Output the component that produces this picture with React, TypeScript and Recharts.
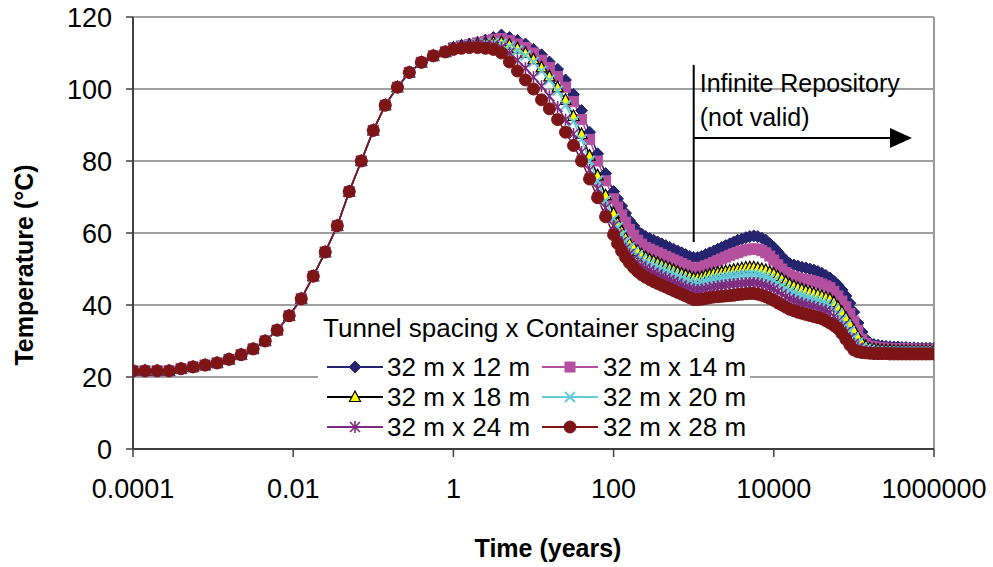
import {
  LineChart,
  Line,
  XAxis,
  YAxis,
  CartesianGrid,
  Legend,
  ReferenceLine,
} from "recharts";

const FONT = "'Liberation Sans', Arial, Helvetica, sans-serif";

// time in years (log spaced; output gets denser after 100 years)
const earlyTimes = [
  0.0001, 0.000141, 0.0002, 0.000282, 0.000398, 0.000562, 0.000794, 0.00112,
  0.00158, 0.00224, 0.00316, 0.00447, 0.00631, 0.00891, 0.0126, 0.0178, 0.0251,
  0.0355, 0.0501, 0.0708, 0.1, 0.141, 0.2, 0.282, 0.398, 0.562, 0.794,
];
const midTimes = [
  1, 1.26, 1.58, 2, 2.51, 3.16, 3.98, 5.01, 6.31, 7.94,
  10, 12.6, 15.8, 20, 25.1, 31.6, 39.8, 50.1, 63.1, 79.4,
];
const lateTimes = [
  100, 112, 126, 141, 158, 178, 200, 224, 251, 282,
  316, 355, 398, 447, 501, 562, 631, 708, 794, 891,
  1000, 1120, 1260, 1410, 1580, 1780, 2000, 2240, 2510, 2820,
  3160, 3550, 3980, 4470, 5010, 5620, 6310, 7080, 7940, 8910,
  10000, 11200, 12600, 14100, 15800, 17800, 20000, 22400, 25100, 28200,
  31600, 35500, 39800, 44700, 50100, 56200, 63100, 70800, 79400, 89100,
  100000, 112000, 126000, 141000, 158000, 178000, 200000, 224000, 251000, 282000,
  316000, 355000, 398000, 447000, 501000, 562000, 631000, 708000, 794000, 891000,
  1000000,
];

// all cases overlap before ~1 year
const earlyTemp = [
  21.7, 21.7, 21.7, 21.7, 22.3, 22.8, 23.3, 23.9, 24.9, 26.2, 27.8, 30, 33, 37,
  41.7, 48, 54.7, 62, 71.5, 80, 88.5, 95.5, 100.5, 104.6, 107.4, 109.2, 110.3,
];

// 1 - 80 years
const mid12 = [111.5, 112, 112.5, 113, 113.6, 114.3, 115, 114.3, 113.5, 112.5, 111, 109.5, 107.5, 105.5, 102.5, 98.5, 94, 88, 82, 76.5];
const mid14 = [111.5, 112, 112.3, 112.8, 113.2, 113.8, 114, 113.5, 112.5, 111.5, 110, 108, 106, 103.5, 100.5, 96.5, 91.5, 86, 80, 74.5];
const mid18 = [111.5, 112, 112.2, 112.5, 112.8, 113, 113, 112.3, 111.3, 110, 108.3, 106, 103.5, 100.5, 97, 92.5, 87.5, 81.5, 76, 70.5];
const mid20 = [111.5, 112, 112.2, 112.4, 112.6, 112.7, 112.6, 111.8, 110.7, 109.3, 107.5, 105, 102.5, 99.5, 95.5, 91, 86, 80, 74.5, 69];
const mid24 = [111.3, 111.8, 112, 112.2, 112.3, 112.2, 111.5, 110, 108, 105.8, 103.3, 100.8, 98, 95, 91.5, 87.5, 82.5, 77.5, 72.3, 67];
const mid28 = [111, 111.3, 111.5, 111.5, 111.3, 111, 110, 107.5, 105, 102.5, 100, 97, 94.5, 91.5, 88, 84.3, 80, 75, 69.8, 64.5];

// 100 years - 1e6 years
const late12 = [
  71.5, 69.5, 67.5, 65.5, 63.5, 62, 60.5, 59.7, 59, 58.5,
  58, 57.5, 57, 56.5, 56, 55.5, 55, 54.5, 54, 53.5,
  53.2, 53.2, 53.5, 54, 54.5, 55, 55.5, 56, 56.5, 57,
  57.5, 58, 58.3, 58.7, 59, 59.2, 59, 58.6, 58, 57,
  56, 54.8, 53.5, 52.3, 51.5, 51.1, 50.8, 50.5, 50.3, 50,
  49.7, 49.3, 48.8, 48.2, 47.5, 46.6, 45.5, 44.2, 42.5, 40.5,
  38, 35, 32.5, 30.5, 29.5, 29, 28.8, 28.6, 28.5, 28.4,
  28.3, 28.3, 28.2, 28.2, 28.1, 28.1, 28, 28, 28, 28,
  28,
];
const late14 = [
  69.5, 67.2, 65, 63, 61, 59.4, 58, 56.9, 56, 55.5,
  55, 54.5, 54, 53.5, 53, 52.5, 52, 51.5, 51, 50.5,
  50.2, 50.2, 50.5, 50.9, 51.3, 51.8, 52.3, 52.8, 53.3, 53.8,
  54.2, 54.6, 55, 55.3, 55.5, 55.6, 55.5, 55.1, 54.5, 53.6,
  52.5, 51.2, 50, 49, 48.3, 47.8, 47.5, 47.2, 47, 46.8,
  46.5, 46.2, 45.8, 45.3, 44.8, 43.8, 42.5, 41.1, 39.5, 37.6,
  35.5, 33, 30.5, 29.3, 28.6, 28.4, 28.2, 28.1, 28, 27.9,
  27.9, 27.8, 27.8, 27.8, 27.8, 27.7, 27.7, 27.7, 27.7, 27.7,
  27.7,
];
const late18 = [
  65.5, 62.8, 60.5, 58.6, 57, 55.9, 55, 54.1, 53.3, 52.7,
  52.2, 51.7, 51.2, 50.7, 50.2, 49.7, 49.2, 48.7, 48.3, 47.9,
  47.5, 47.6, 47.8, 48.2, 48.5, 48.8, 49, 49.2, 49.4, 49.6,
  49.8, 50, 50.2, 50.4, 50.5, 50.5, 50.3, 50, 49.7, 49.2,
  48.7, 48, 47.3, 46.5, 45.8, 45.3, 44.8, 44.4, 44, 43.7,
  43.3, 42.9, 42.5, 42.1, 41.7, 40.8, 39.5, 38.1, 36.5, 34.8,
  33, 31.2, 29.5, 28.6, 28, 27.8, 27.6, 27.5, 27.4, 27.4,
  27.3, 27.3, 27.3, 27.3, 27.2, 27.2, 27.2, 27.2, 27.2, 27.2,
  27.2,
];
const late20 = [
  64, 61.6, 59.5, 57.6, 56, 54.8, 53.8, 52.8, 52, 51.4,
  50.8, 50.3, 49.8, 49.3, 48.8, 48.3, 47.8, 47.3, 46.8, 46.4,
  46, 46, 46.2, 46.5, 46.8, 47.1, 47.3, 47.5, 47.7, 47.9,
  48, 48.2, 48.3, 48.4, 48.5, 48.5, 48.3, 48, 47.7, 47.2,
  46.7, 46, 45.2, 44.5, 43.8, 43.3, 42.8, 42.4, 42, 41.7,
  41.3, 41, 40.6, 40.2, 39.8, 38.8, 37.5, 36, 34.5, 32.8,
  31, 29.5, 28.3, 27.8, 27.5, 27.3, 27.2, 27.1, 27.1, 27,
  27, 27, 27, 27, 27, 27, 27, 27, 27, 27,
  27,
];
const late24 = [
  62, 59.6, 57.5, 55.7, 54.2, 52.9, 51.8, 50.9, 50.2, 49.6,
  49, 48.5, 48, 47.5, 47, 46.5, 46, 45.5, 45, 44.6,
  44.2, 44.2, 44.3, 44.5, 44.8, 45, 45.2, 45.4, 45.5, 45.7,
  45.8, 45.9, 46, 46.1, 46.2, 46.2, 46, 45.7, 45.4, 44.9,
  44.4, 43.7, 43, 42.3, 41.7, 41.2, 40.8, 40.4, 40.1, 39.8,
  39.5, 39.1, 38.8, 38.4, 38, 36.8, 35.5, 34, 32.5, 30.8,
  29.3, 28.2, 27.5, 27.1, 26.9, 26.8, 26.8, 26.7, 26.7, 26.7,
  26.7, 26.6, 26.6, 26.6, 26.6, 26.6, 26.6, 26.6, 26.6, 26.6,
  26.6,
];
const late28 = [
  59.5, 57.1, 55, 53.2, 51.7, 50.4, 49.3, 48.4, 47.7, 47.1,
  46.5, 46, 45.5, 45, 44.5, 44, 43.5, 43, 42.5, 42,
  41.5, 41.5, 41.6, 41.8, 42, 42.2, 42.3, 42.4, 42.5, 42.6,
  42.7, 42.9, 43, 43.1, 43.2, 43.2, 43, 42.7, 42.3, 41.8,
  41.3, 40.6, 40, 39.4, 38.8, 38.4, 38, 37.7, 37.4, 37.1,
  36.8, 36.5, 36.2, 35.6, 35, 34.3, 33.5, 32.1, 30.5, 28.9,
  27.5, 27, 26.8, 26.7, 26.6, 26.5, 26.5, 26.5, 26.5, 26.4,
  26.4, 26.4, 26.4, 26.4, 26.4, 26.4, 26.4, 26.4, 26.4, 26.4,
  26.4,
];

const xTicks = [0.0001, 0.01, 1, 100, 10000, 1000000];
const yTicks = [0, 20, 40, 60, 80, 100, 120];

const times = [...earlyTimes, ...midTimes, ...lateTimes];
const s12 = [...earlyTemp, ...mid12, ...late12];
const s14 = [...earlyTemp, ...mid14, ...late14];
const s18 = [...earlyTemp, ...mid18, ...late18];
const s20 = [...earlyTemp, ...mid20, ...late20];
const s24 = [...earlyTemp, ...mid24, ...late24];
const s28 = [...earlyTemp, ...mid28, ...late28];

const rows = times.map((t, i) => ({
  t,
  s12: s12[i],
  s14: s14[i],
  s18: s18[i],
  s20: s20[i],
  s24: s24[i],
  s28: s28[i],
}));

const NAVY = "#24246F";
const PINK = "#B5509F";
const CYAN = "#66CCD9";
const PURPLE = "#7B2A7E";
const DARKRED = "#7D1416";

type MarkProps = { cx: number; cy: number };

function Diamond({ cx, cy }: MarkProps) {
  const s = 6;
  return (
    <polygon
      points={`${cx},${cy - s} ${cx + s},${cy} ${cx},${cy + s} ${cx - s},${cy}`}
      fill={NAVY}
      stroke={NAVY}
      strokeWidth={1}
    />
  );
}

function Square({ cx, cy }: MarkProps) {
  return <rect x={cx - 5} y={cy - 5} width={10} height={10} fill={PINK} stroke={PINK} />;
}

function Triangle({ cx, cy }: MarkProps) {
  return (
    <polygon
      points={`${cx},${cy - 6} ${cx + 5.5},${cy + 4.5} ${cx - 5.5},${cy + 4.5}`}
      fill="#FFFF00"
      stroke="#000"
      strokeWidth={1.2}
    />
  );
}

function Cross({ cx, cy }: MarkProps) {
  const s = 5;
  return (
    <g stroke={CYAN} strokeWidth={2}>
      <line x1={cx - s} y1={cy - s} x2={cx + s} y2={cy + s} />
      <line x1={cx - s} y1={cy + s} x2={cx + s} y2={cy - s} />
    </g>
  );
}

function Star({ cx, cy }: MarkProps) {
  const s = 5;
  return (
    <g stroke={PURPLE} strokeWidth={1.6}>
      <line x1={cx - s} y1={cy - s} x2={cx + s} y2={cy + s} />
      <line x1={cx - s} y1={cy + s} x2={cx + s} y2={cy - s} />
      <line x1={cx} y1={cy - s - 1} x2={cx} y2={cy + s + 1} />
    </g>
  );
}

function Dot({ cx, cy }: MarkProps) {
  return <circle cx={cx} cy={cy} r={6} fill={DARKRED} stroke={DARKRED} />;
}

const SERIES = [
  { key: "s12", name: "32 m x 12 m", color: NAVY, Mark: Diamond },
  { key: "s14", name: "32 m x 14 m", color: PINK, Mark: Square },
  { key: "s18", name: "32 m x 18 m", color: "#000000", Mark: Triangle },
  { key: "s20", name: "32 m x 20 m", color: CYAN, Mark: Cross },
  { key: "s24", name: "32 m x 24 m", color: PURPLE, Mark: Star },
  { key: "s28", name: "32 m x 28 m", color: DARKRED, Mark: Dot },
];

function LegendBox() {
  return (
    <div style={{ position: "relative", width: 432, height: 140, fontFamily: FONT, color: "#000" }}>
      <div style={{ position: "absolute", left: 5, top: 5, fontSize: 26, lineHeight: "30px", whiteSpace: "nowrap" }}>
        Tunnel spacing x Container spacing
      </div>
      {SERIES.map((s, i) => {
        const col = i % 2;
        const row = Math.floor(i / 2);
        const top = 44 + row * 30;
        const iconLeft = col === 0 ? 9 : 224;
        const textLeft = col === 0 ? 69 : 285;
        const M = s.Mark;
        return (
          <div key={s.key}>
            <svg style={{ position: "absolute", left: iconLeft, top }} width={56} height={30}>
              <line x1={0} y1={15} x2={56} y2={15} stroke={s.color} strokeWidth={2} />
              <M cx={28} cy={15} />
            </svg>
            <div
              style={{
                position: "absolute",
                left: textLeft,
                top,
                fontSize: 26,
                lineHeight: "30px",
                whiteSpace: "nowrap",
              }}
            >
              {s.name}
            </div>
          </div>
        );
      })}
    </div>
  );
}

export default function App() {
  return (
    <div style={{ position: "absolute", left: 0, top: 0, background: "#fff" }}>
      <LineChart
        width={993}
        height={567}
        data={rows}
        margin={{ top: 17, right: 59, bottom: 58, left: 0 }}
      >
        <CartesianGrid vertical={false} stroke="#404040" strokeWidth={1} />
        <XAxis
          dataKey="t"
          type="number"
          scale="log"
          domain={[0.0001, 1000000]}
          ticks={xTicks}
          allowDataOverflow
          tickFormatter={(v: number) => String(v)}
          height={60}
          tickSize={8}
          tickMargin={22}
          axisLine={{ stroke: "#404040", strokeWidth: 2 }}
          tickLine={{ stroke: "#404040", strokeWidth: 1.5 }}
          tick={{ fill: "#000", fontSize: 27, fontFamily: FONT }}
          label={{
            content: () => (
              <text
                x={548}
                y={557}
                textAnchor="middle"
                fontFamily={FONT}
                fontSize={25}
                fontWeight="bold"
                fill="#000"
              >
                Time (years)
              </text>
            ),
          }}
        />
        <YAxis
          type="number"
          domain={[0, 120]}
          ticks={yTicks}
          width={133}
          tickSize={7}
          tickMargin={14}
          axisLine={{ stroke: "#404040", strokeWidth: 2 }}
          tickLine={{ stroke: "#404040", strokeWidth: 1.5 }}
          tick={{ fill: "#000", fontSize: 27, fontFamily: FONT }}
          label={{
            content: () => (
              <text
                transform="translate(24,265) rotate(-90)"
                textAnchor="middle"
                dominantBaseline="central"
                fontFamily={FONT}
                fontSize={25}
                fontWeight="bold"
                fill="#000"
              >
                Temperature (°C)
              </text>
            ),
          }}
        />
        <ReferenceLine x={1000000} stroke="#9a9a9a" strokeWidth={2} />

        {SERIES.map((s) => {
          const M = s.Mark;
          return (
            <Line
              key={s.key}
              dataKey={s.key}
              name={s.name}
              stroke={s.color}
              strokeWidth={1.5}
              isAnimationActive={false}
              activeDot={false}
              dot={(p: any) => (
                <g key={`${s.key}-${p.index}`}>
                  <M cx={p.cx} cy={p.cy} />
                </g>
              )}
            />
          );
        })}

        <ReferenceLine
          segment={[
            { x: 1000, y: 106.7 },
            { x: 1000, y: 57.5 },
          ]}
          shape={(p: any) => {
            const top = Math.min(p.y1, p.y2);
            return (
              <g>
                <line x1={p.x1} y1={p.y1} x2={p.x2} y2={p.y2} stroke="#000" strokeWidth={2} />
                <text x={p.x1 + 6} y={top + 27} fontFamily={FONT} fontSize={25} fill="#000">
                  Infinite Repository
                </text>
                <text x={p.x1 + 6} y={top + 61} fontFamily={FONT} fontSize={25} fill="#000">
                  (not valid)
                </text>
              </g>
            );
          }}
        />
        <ReferenceLine
          segment={[
            { x: 1000, y: 86.4 },
            { x: 531000, y: 86.4 },
          ]}
          shape={(p: any) => (
            <g>
              <line x1={p.x1} y1={p.y1} x2={p.x2 - 20} y2={p.y2} stroke="#000" strokeWidth={2} />
              <polygon
                points={`${p.x2},${p.y2} ${p.x2 - 22},${p.y2 - 10} ${p.x2 - 22},${p.y2 + 10}`}
                fill="#000"
              />
            </g>
          )}
        />

        <Legend
          verticalAlign="middle"
          align="center"
          wrapperStyle={{ left: 318, top: 308, width: 432, height: 140, backgroundColor: "#fff" }}
          content={() => <LegendBox />}
        />
      </LineChart>
    </div>
  );
}
